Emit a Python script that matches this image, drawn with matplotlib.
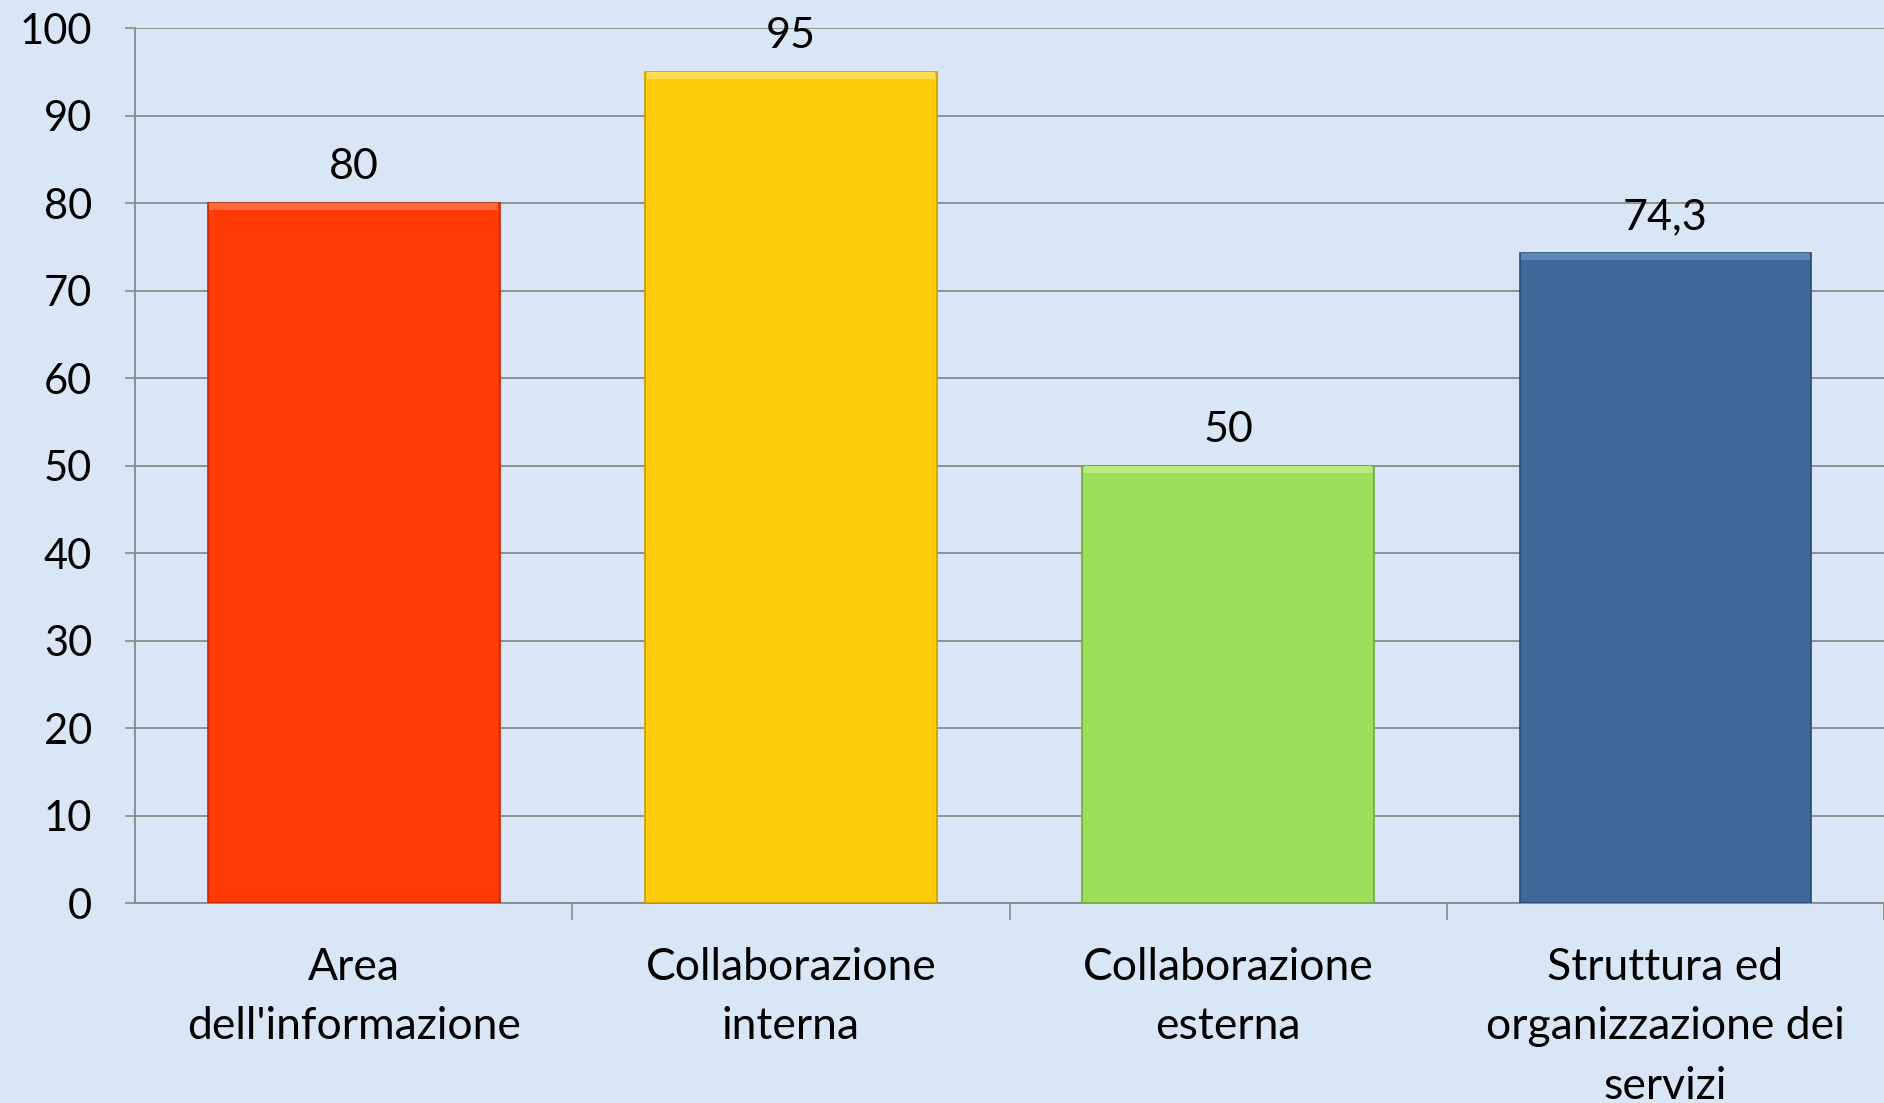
import matplotlib.pyplot as plt

# dati del grafico
categorie = ["Area\ndell'informazione", "Collaborazione\ninterna",
             "Collaborazione\nesterna", "Struttura ed\norganizzazione dei\nservizi"]
valori = [80, 95, 50, 74.3]
etichette = ["80", "95", "50", "74,3"]
colori = ["#ff3a05", "#ffcc0a", "#9cdd5a", "#3d6899"]
chiari = ["#ff6a3a", "#ffdc50", "#b8ec80", "#5e88bb"]
bordi = ["#c42a00", "#c89e00", "#74a83e", "#2a4a70"]
tick_y = [0, 10, 20, 30, 40, 50, 60, 70, 80, 90, 100]

plt.rcParams['font.family'] = ['Lato', 'DejaVu Sans']

fig = plt.figure(figsize=(18.84, 11.03), dpi=100)
fig.patch.set_facecolor('#d8e6f5')
ax = fig.add_axes([0.0717, 0.1809, 0.9283, 0.7933])
ax.set_facecolor('none')

x = range(len(valori))
ax.bar(x, valori, width=0.667, color=colori, edgecolor=bordi, linewidth=1.2, zorder=3)
# piccola smussatura in alto
ax.bar(x, [0.8] * len(valori), bottom=[v - 0.8 for v in valori], width=0.66,
       color=chiari, linewidth=0, zorder=4)

for i, v in enumerate(valori):
    ax.annotate(etichette[i], (i, v), xytext=(0, 26), textcoords='offset points',
                ha='center', va='center', fontsize=31, color='black')

ax.set_xlim(-0.5, 3.482)
ax.set_ylim(0, 100)
ax.set_yticks(tick_y)
ax.tick_params(axis='y', labelsize=30, length=7, width=1.2, color='#8a8a8a', pad=24)
ax.yaxis.grid(True, color='#8a8a8a', linewidth=1.3, zorder=1)
ax.set_axisbelow(True)

# tacche sull'asse x tra le categorie
ax.set_xticks([0.5, 1.5, 2.5, 3.5], minor=False)
ax.set_xticklabels([])
ax.tick_params(axis='x', length=12, width=1.2, color='#8a8a8a')
for i, c in enumerate(categorie):
    ax.text(i, -5.0, c, ha='center', va='top', fontsize=32, linespacing=1.55,
            transform=ax.transData)

for s in ['top', 'right']:
    ax.spines[s].set_visible(False)
ax.spines['left'].set_color('#8a8a8a')
ax.spines['bottom'].set_color('#8a8a8a')
ax.spines['left'].set_linewidth(1.3)
ax.spines['bottom'].set_linewidth(1.3)

fig.savefig('out.png', dpi=100, facecolor=fig.get_facecolor())
